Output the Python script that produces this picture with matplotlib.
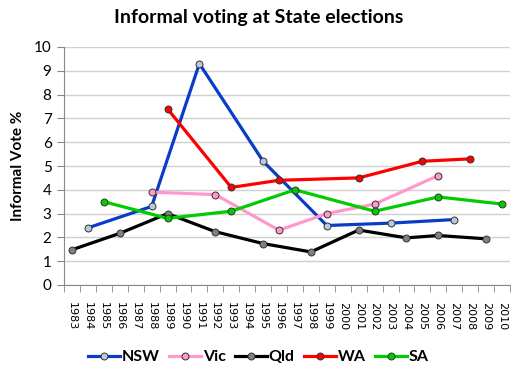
import numpy as np
import matplotlib
matplotlib.use("Agg")
import matplotlib.pyplot as plt
from matplotlib.lines import Line2D

years = list(range(1983, 2011))

nsw_years = [1984, 1988, 1991, 1995, 1999, 2003, 2007]
nsw_vals = [2.4, 3.3, 9.3, 5.2, 2.5, 2.6, 2.75]

vic_years = [1988, 1992, 1996, 1999, 2002, 2006]
vic_vals = [3.9, 3.8, 2.3, 3.0, 3.4, 4.6]

qld_years = [1983, 1986, 1989, 1992, 1995, 1998, 2001, 2004, 2006, 2009]
qld_vals = [1.48, 2.17, 3.0, 2.24, 1.74, 1.39, 2.31, 1.98, 2.08, 1.94]

wa_years = [1989, 1993, 1996, 2001, 2005, 2008]
wa_vals = [7.4, 4.1, 4.4, 4.5, 5.2, 5.3]

sa_years = [1985, 1989, 1993, 1997, 2002, 2006, 2010]
sa_vals = [3.5, 2.8, 3.1, 4.0, 3.1, 3.7, 3.4]

series = [
    ("NSW", nsw_years, nsw_vals, "#0a3cc8", "#b8c8e0"),
    ("Vic", vic_years, vic_vals, "#ff99cc", "#ff99cc"),
    ("Qld", qld_years, qld_vals, "#000000", "#808080"),
    ("WA", wa_years, wa_vals, "#ff0000", "#ff0000"),
    ("SA", sa_years, sa_vals, "#00cc00", "#00cc00"),
]

fig = plt.figure(figsize=(5.17, 3.77), dpi=100)
ax = fig.add_axes([64 / 517, 1 - 285 / 377, 446 / 517, 238 / 377])

handles = []
for name, yrs, vals, lc, fc in series:
    xs = [years.index(y) for y in yrs]
    ax.plot(xs, vals, color=lc, lw=2.3, marker="o", ms=5,
            mfc=fc, mec="#333333", mew=0.7, zorder=3)
    handles.append(Line2D([], [], color=lc, lw=2.3, marker="o", ms=5,
                          mfc=fc, mec="#333333", mew=0.7))

ax.set_xlim(-0.5, len(years) - 0.5)
ax.set_ylim(0, 10)
ax.set_yticks(range(0, 11))
ax.set_yticklabels([str(i) for i in range(0, 11)], fontsize=11, family="Lato")
ax.set_xticks(range(len(years)))
ax.set_xticklabels([str(y) for y in years], rotation=-90, fontsize=8)
ax.set_xticks(np.arange(-0.5, len(years), 1), minor=True)
ax.tick_params(axis="x", which="major", length=0, pad=12)
ax.tick_params(axis="x", which="minor", length=5, color="#888888", direction="out")
ax.tick_params(axis="y", length=5, color="#888888", direction="out", pad=4)

ax.yaxis.grid(True, color="#d0d0d0", lw=1)
ax.set_axisbelow(True)
for s in ["top", "right"]:
    ax.spines[s].set_visible(False)
for s in ["left", "bottom"]:
    ax.spines[s].set_color("#888888")

ax.set_ylabel("Informal Vote %", fontsize=11, fontweight="bold", family="Lato", labelpad=6)
fig.text(0.5, 1 - 17 / 377, "Informal voting at State elections", ha="center", va="center",
         fontsize=14, fontweight="bold", family="Lato")

fig.legend(handles, [s[0] for s in series], loc="center", bbox_to_anchor=(0.5, 1 - 357 / 377),
           ncol=5, frameon=False, handlelength=2.0, columnspacing=0.6, handletextpad=0.1,
           prop={"family": "Lato", "weight": "bold", "size": 11.5})

fig.savefig("out.png", dpi=100)
